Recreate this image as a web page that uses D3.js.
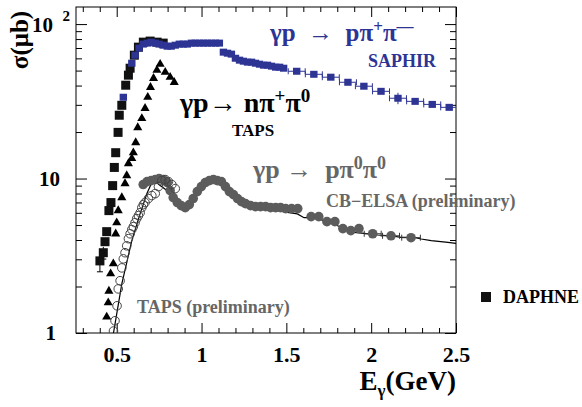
<!DOCTYPE html>
<html>
<head>
<meta charset="utf-8">
<script src="https://cdn.jsdelivr.net/npm/d3@7"></script>
<style>
body { margin: 0; background: #fff; }
svg text { font-family: "Liberation Serif", "Times New Roman", serif; font-weight: bold; }
</style>
</head>
<body>
<div id="vis"></div>
<script>
// --- data (E in GeV, sigma in microbarn) ---
var daphneE = [0.401, 0.421, 0.431, 0.441, 0.454, 0.466, 0.476, 0.486, 0.494, 0.508, 0.515, 0.530, 0.553, 0.569, 0.579, 0.604, 0.628, 0.657, 0.697, 0.738, 0.774];
var daphneSigma = [2.93, 3.31, 3.90, 4.53, 6.20, 6.99, 9.0, 11.8, 14.7, 19.9, 25.7, 29.8, 40.2, 46.7, 51.8, 62.9, 70.9, 76.4, 77.6, 76.4, 75.3];
var daphneErr = [0.44, 0.3, 0, 0, 0, 0, 0, 0, 0, 0, 0, 0, 0, 0, 0, 0, 0, 0, 0, 0, 0];

var saphirE = [0.539, 0.589, 0.608, 0.632, 0.656, 0.680, 0.703, 0.727, 0.750, 0.774, 0.798, 0.821, 0.845, 0.869, 0.892, 0.916, 0.940, 0.963, 0.987, 1.011, 1.034, 1.058, 1.082, 1.105,
    1.129, 1.153, 1.176, 1.200, 1.224, 1.247, 1.271, 1.295, 1.318, 1.342, 1.366, 1.389, 1.413, 1.437, 1.460, 1.484,
    1.561, 1.662, 1.762, 1.863, 1.957, 2.058, 2.158, 2.259, 2.360, 2.460];
var saphirSigma = [33.6, 55.8, 62.9, 69.9, 74.2, 75.3, 76.4, 75.3, 74.2, 73.0, 71.9, 71.9, 73.0, 74.2, 74.2, 74.2, 75.3, 75.3, 75.3, 75.3, 75.3, 75.3, 75.3, 75.3,
    65.8, 64.8, 63.9, 60.1, 58.4, 57.5, 56.7, 56.7, 55.8, 55.0, 54.2, 54.2, 53.4, 52.6, 52.6, 51.8,
    49.5, 47.3, 45.3, 42.0, 39.6, 36.7, 33.1, 31.6, 30.2, 28.9];
var saphirErrX = [0, 0, 0, 0, 0, 0, 0, 0, 0, 0, 0, 0, 0, 0, 0, 0, 0, 0, 0, 0, 0, 0, 0, 0,
    0, 0, 0, 0, 0, 0, 0, 0, 0, 0, 0, 0, 0, 0, 0, 0,
    0.05, 0.05, 0.05, 0.05, 0.05, 0.05, 0.05, 0.05, 0.05, 0.05];
var saphirErrY = [0, 0, 0, 0, 0, 0, 0, 0, 0, 0, 0, 0, 0, 0, 0, 0, 0, 0, 0, 0, 0, 0, 0, 0,
    0, 0, 0, 0, 0, 0, 0, 0, 0, 0, 0, 0, 0, 0, 0, 0,
    0.8, 0.8, 0.8, 0.9, 1.0, 1.0, 2.8, 1.0, 1.0, 1.0];

var tapsNE = [0.441, 0.450, 0.454, 0.464, 0.480, 0.494, 0.500, 0.509, 0.530, 0.549, 0.559, 0.569, 0.589, 0.598, 0.612, 0.624, 0.648, 0.667, 0.683, 0.699, 0.717, 0.737, 0.756, 0.786, 0.815, 0.839];
var tapsNSigma = [1.27, 1.57, 1.87, 2.42, 2.81, 4.39, 5.18, 6.20, 7.53, 9.28, 10.46, 12.5, 13.5, 14.7, 17.1, 21.4, 24.5, 28.5, 33.6, 39.0, 44.6, 50.3, 55.0, 48.8, 45.3, 42.0];

var tapsPE = [0.481, 0.490, 0.502, 0.509, 0.520, 0.530, 0.539, 0.549, 0.559, 0.569, 0.579, 0.589, 0.598, 0.608, 0.618, 0.628, 0.638, 0.648, 0.657, 0.667, 0.687, 0.707, 0.727, 0.746, 0.766, 0.786, 0.805, 0.825, 0.845];
var tapsPSigma = [1.03, 1.20, 1.50, 1.93, 2.18, 2.64, 3.02, 3.31, 3.67, 4.08, 4.39, 4.67, 4.88, 5.18, 5.50, 5.75, 6.01, 6.48, 6.78, 6.99, 7.42, 7.76, 7.99, 8.87, 9.70, 9.85, 9.55, 9.14, 8.61];

var cbE = [0.656, 0.679, 0.703, 0.727, 0.750, 0.774, 0.798, 0.815, 0.833, 0.857, 0.880, 0.904, 0.928, 0.951, 0.975, 0.999, 1.022, 1.046, 1.070, 1.093, 1.117, 1.141, 1.164, 1.188,
    1.212, 1.235, 1.259, 1.289, 1.318, 1.348, 1.378, 1.407, 1.437, 1.466, 1.496, 1.531, 1.567, 1.646, 1.691, 1.739, 1.786, 1.833, 1.880, 1.928, 2.009, 2.117, 2.235];
var cbSigma = [9.14, 9.55, 9.70, 9.85, 10.0, 9.85, 9.42, 8.36, 7.53, 6.99, 6.68, 6.48, 6.78, 7.42, 8.23, 8.87, 9.42, 9.70, 9.85, 9.70, 9.55, 8.87, 8.23, 7.87,
    7.42, 7.09, 6.88, 6.68, 6.58, 6.58, 6.58, 6.48, 6.48, 6.48, 6.39, 6.39, 6.39, 5.67, 5.67, 5.26, 5.26, 4.74, 4.60, 4.74, 4.39, 4.26, 4.14];
var cbErrX = [0, 0, 0, 0, 0, 0, 0, 0, 0, 0, 0, 0, 0, 0, 0, 0, 0, 0, 0, 0, 0, 0, 0, 0,
    0, 0, 0, 0, 0, 0, 0, 0, 0, 0, 0, 0, 0, 0, 0, 0, 0, 0, 0, 0, 0.05, 0.05, 0.055];

var modelE = [0.480, 0.530, 0.589, 0.638, 0.678, 0.707, 0.727, 0.756, 0.796, 0.835, 0.875, 0.904, 0.934, 0.973, 1.012, 1.062, 1.093, 1.131, 1.190, 1.269, 1.348, 1.427, 1.506, 1.565, 1.604, 1.663, 1.722, 1.802, 1.900, 1.959, 2.038, 2.117, 2.176, 2.255, 2.295, 2.354, 2.453, 2.500];
var modelSigma = [0.985, 2.08, 3.96, 5.93, 7.99, 9.42, 9.55, 9.0, 8.36, 7.42, 6.68, 6.58, 6.99, 8.11, 9.28, 9.93, 9.93, 9.46, 8.11, 6.88, 6.39, 6.27, 6.04, 5.90, 5.58, 5.58, 5.34, 4.95, 4.48, 4.42, 4.31, 4.26, 4.16, 4.16, 4.06, 3.96, 3.86, 3.80];

var xTickValues = [0.5, 1, 1.5, 2, 2.5];
var xTickLabels = ["0.5", "1", "1.5", "2", "2.5"];
var yMajor = [1, 10, 100];
var yMinor = [2, 3, 4, 5, 6, 7, 8, 9, 20, 30, 40, 50, 60, 70, 80, 90];

var blue = "#2e3494";
var gray = "#666666";

var width = 582, height = 407;
var margin = {top: 7, right: 126, bottom: 74, left: 76};
var w = width - margin.left - margin.right;
var h = height - margin.top - margin.bottom;

var root = d3.select('#vis').append('svg')
    .attr('width', width)
    .attr('height', height);

var svg = root.append('g')
    .attr('transform', 'translate(' + margin.left + ',' + margin.top + ')');

var x = d3.scaleLinear().domain([0.26, 2.5]).range([0, w]);
var y = d3.scaleLog().domain([1, 129]).range([h, 0]);

var xMinor = d3.range(0.3, 2.51, 0.1).filter(function(d) { return Math.abs(d * 2 - Math.round(d * 2)) > 0.01; });

// ticks on all four sides, pointing inward
function axisStyle(g) {
    g.select('.domain').remove();
    g.selectAll('line').attr('stroke', '#000');
}
svg.append('g').attr('transform', 'translate(0,' + h + ')')
    .call(d3.axisBottom(x).tickValues(xMinor).tickSize(-5).tickFormat('')).call(axisStyle);
var xAx = svg.append('g').attr('transform', 'translate(0,' + h + ')')
    .call(d3.axisBottom(x).tickValues(xTickValues).tickSize(-10).tickPadding(13)
        .tickFormat(function(d, i) { return xTickLabels[i]; }))
    .call(axisStyle);
xAx.selectAll('text').style('font-size', '22px').attr('fill', '#000');

svg.append('g').call(d3.axisTop(x).tickValues(xMinor).tickSize(-5).tickFormat('')).call(axisStyle);
svg.append('g').call(d3.axisTop(x).tickValues(xTickValues).tickSize(-10).tickFormat('')).call(axisStyle);

svg.append('g').call(d3.axisLeft(y).tickValues(yMinor).tickSize(-6).tickFormat('')).call(axisStyle);
svg.append('g').call(d3.axisLeft(y).tickValues(yMajor).tickSize(-11).tickFormat('')).call(axisStyle);
svg.append('g').attr('transform', 'translate(' + w + ',0)')
    .call(d3.axisRight(y).tickValues(yMinor).tickSize(-6).tickFormat('')).call(axisStyle);
svg.append('g').attr('transform', 'translate(' + w + ',0)')
    .call(d3.axisRight(y).tickValues(yMajor).tickSize(-11).tickFormat('')).call(axisStyle);

svg.append('rect').attr('width', w).attr('height', h)
    .attr('fill', 'none').attr('stroke', '#000').attr('stroke-width', 1);

// y labels (ROOT style 10^2)
svg.append('text').attr('x', -23).attr('y', y(100) + 8).attr('text-anchor', 'end')
    .style('font-size', '21px').text('10');
svg.append('text').attr('x', -6).attr('y', y(100) - 3).attr('text-anchor', 'end')
    .style('font-size', '15px').text('2');
svg.append('text').attr('x', -16).attr('y', y(10) + 7).attr('text-anchor', 'end')
    .style('font-size', '21px').text('10');
svg.append('text').attr('x', -20).attr('y', y(1) + 7).attr('text-anchor', 'end')
    .style('font-size', '21px').text('1');

// data area
svg.append('clipPath').attr('id', 'clip').append('rect').attr('width', w).attr('height', h);
var plot = svg.append('g').attr('clip-path', 'url(#clip)');

var line = d3.line().x(function(d) { return x(d[0]); }).y(function(d) { return y(d[1]); });
plot.append('path')
    .datum(d3.zip(modelE, modelSigma))
    .attr('d', line)
    .attr('fill', 'none')
    .attr('stroke', '#000')
    .attr('stroke-width', 1.2);

// CB-ELSA filled gray circles
var cb = d3.zip(cbE, cbSigma, cbErrX);
plot.selectAll('.cbErr').data(cb.filter(function(d) { return d[2] > 0; })).enter()
    .append('path').attr('class', 'cbErr')
    .attr('d', function(d) {
        var x0 = x(d[0] - d[2]), x1 = x(d[0] + d[2]), yy = y(d[1]);
        return 'M' + x0 + ',' + yy + 'H' + x1 + 'M' + x0 + ',' + (yy - 3) + 'V' + (yy + 3) + 'M' + x1 + ',' + (yy - 3) + 'V' + (yy + 3);
    })
    .attr('stroke', '#333').attr('fill', 'none');
plot.selectAll('.cb').data(cb).enter()
    .append('circle').attr('class', 'cb')
    .attr('cx', function(d) { return x(d[0]); })
    .attr('cy', function(d) { return y(d[1]); })
    .attr('r', 4.8)
    .attr('fill', '#5c5c5c');

// TAPS p pi0 pi0 open circles
plot.selectAll('.tapsP').data(d3.zip(tapsPE, tapsPSigma)).enter()
    .append('circle').attr('class', 'tapsP')
    .attr('cx', function(d) { return x(d[0]); })
    .attr('cy', function(d) { return y(d[1]); })
    .attr('r', 4.3)
    .attr('fill', 'none')
    .attr('stroke', '#444')
    .attr('stroke-width', 1);

// TAPS n pi+ pi0 triangles
plot.selectAll('.tapsN').data(d3.zip(tapsNE, tapsNSigma)).enter()
    .append('path').attr('class', 'tapsN')
    .attr('d', d3.symbol(d3.symbolTriangle).size(36))
    .attr('transform', function(d) { return 'translate(' + x(d[0]) + ',' + y(d[1]) + ')'; })
    .attr('fill', '#000');

// DAPHNE black squares
var da = d3.zip(daphneE, daphneSigma, daphneErr);
plot.selectAll('.daErr').data(da.filter(function(d) { return d[2] > 0; })).enter()
    .append('path').attr('class', 'daErr')
    .attr('d', function(d) {
        var xx = x(d[0]), y0 = y(d[1] - d[2]), y1 = y(d[1] + d[2]);
        return 'M' + xx + ',' + y0 + 'V' + y1 + 'M' + (xx - 3) + ',' + y0 + 'H' + (xx + 3);
    })
    .attr('stroke', '#000').attr('fill', 'none');
plot.selectAll('.da').data(da).enter()
    .append('rect').attr('class', 'da')
    .attr('x', function(d) { return x(d[0]) - 4.5; })
    .attr('y', function(d) { return y(d[1]) - 4.5; })
    .attr('width', 9).attr('height', 9)
    .attr('fill', '#111');

// SAPHIR blue squares
var sa = d3.zip(saphirE, saphirSigma, saphirErrX, saphirErrY);
plot.selectAll('.saErr').data(sa.filter(function(d) { return d[2] > 0; })).enter()
    .append('path').attr('class', 'saErr')
    .attr('d', function(d) {
        var x0 = x(d[0] - d[2]), x1 = x(d[0] + d[2]), xx = x(d[0]), yy = y(d[1]);
        return 'M' + x0 + ',' + yy + 'H' + x1 +
            'M' + x0 + ',' + (yy - 3) + 'V' + (yy + 3) + 'M' + x1 + ',' + (yy - 3) + 'V' + (yy + 3) +
            'M' + xx + ',' + y(d[1] - d[3]) + 'V' + y(d[1] + d[3]);
    })
    .attr('stroke', blue).attr('fill', 'none');
plot.selectAll('.sa').data(sa).enter()
    .append('rect').attr('class', 'sa')
    .attr('x', function(d) { return x(d[0]) - 3.7; })
    .attr('y', function(d) { return y(d[1]) - 3.5; })
    .attr('width', 7.4).attr('height', 7)
    .attr('fill', blue);

// reaction labels
function formula(px, py, size, color, parts) {
    var t = root.append('text').attr('x', px).attr('y', py)
        .style('font-size', size + 'px').attr('fill', color)
        .attr('xml:space', 'preserve');
    var up = false;
    parts.forEach(function(p) {
        var s = t.append('tspan').text(p[0]);
        if (p[1] === 'sup') {
            s.style('font-size', Math.round(size * 0.68) + 'px').attr('dy', -size * 0.36);
            up = true;
        } else if (up) {
            s.attr('dy', size * 0.36);
            up = false;
        }
    });
    return t;
}
formula(270, 41, 25, blue, [['γp  ', ''], ['→', ''], ['  pπ', ''], ['+', 'sup'], ['π', ''], ['—', 'sup']]);
root.append('text').attr('x', 368).attr('y', 67).style('font-size', '18px').attr('fill', blue).text('SAPHIR');

formula(180, 112, 28, '#000', [['γp', ''], ['→', ''], [' nπ', ''], ['+', 'sup'], ['π', ''], ['0', 'sup']]);
root.append('text').attr('x', 232).attr('y', 136).style('font-size', '17px').attr('fill', '#000').text('TAPS');

formula(253, 178, 26, gray, [['γp ', ''], ['→', ''], ['  pπ', ''], ['0', 'sup'], ['π', ''], ['0', 'sup']]);
root.append('text').attr('x', 326).attr('y', 207).style('font-size', '18px').attr('fill', gray).text('CB−ELSA (preliminary)');
root.append('text').attr('x', 137).attr('y', 313).style('font-size', '18px').attr('fill', gray).text('TAPS (preliminary)');

// DAPHNE legend
root.append('rect').attr('x', 481).attr('y', 292).attr('width', 10).attr('height', 10).attr('fill', '#111');
root.append('text').attr('x', 503).attr('y', 303).style('font-size', '18px').attr('fill', '#000').text('DAPHNE');

// axis titles
root.append('text').attr('transform', 'translate(28,40)rotate(-90)').attr('text-anchor', 'middle')
    .style('font-size', '25px').text('σ(μb)');
var et = root.append('text').attr('x', 456).attr('y', 390).attr('text-anchor', 'end').style('font-size', '27px');
et.append('tspan').text('E');
et.append('tspan').text('γ').style('font-size', '17px').attr('dy', 6);
et.append('tspan').text('(GeV)').attr('dy', -6);
</script>
</body>
</html>
